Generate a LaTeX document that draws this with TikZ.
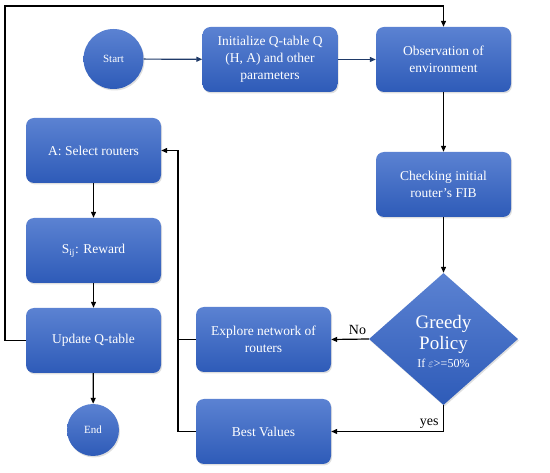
\documentclass[tikz,border=0pt]{standalone}
\usepackage{fontspec}
\setmainfont{Liberation Serif}
\usetikzlibrary{shapes.geometric,arrows.meta,shadows}
\definecolor{boxtop}{HTML}{5B82D2}
\definecolor{boxbot}{HTML}{2E5BB8}
\definecolor{navy}{HTML}{1F3A68}
\tikzset{
  blk/.style={rectangle, rounded corners=8pt, minimum width=135pt, minimum height=65pt,
    top color=boxtop, bottom color=boxbot, draw=none, text=white, align=center,
    font=\fontsize{13.5}{17}\selectfont,
    drop shadow={opacity=0.25, shadow xshift=1pt, shadow yshift=-1.5pt}},
  rnd/.style={circle, top color=boxtop, bottom color=boxbot, draw=none, text=white,
    font=\fontsize{11}{13}\selectfont,
    drop shadow={opacity=0.25, shadow xshift=1pt, shadow yshift=-1.5pt}},
  dia/.style={diamond, minimum width=149pt, minimum height=132pt, inner sep=0pt,
    top color=boxtop, bottom color=boxbot, draw=none, text=white, align=center,
    drop shadow={opacity=0.25, shadow xshift=1pt, shadow yshift=-1.5pt}},
  con/.style={line width=1.2pt, -{Triangle[length=6pt,width=5pt]}},
  lnk/.style={line width=1.2pt},
  lbl/.style={font=\fontsize{14}{16}\selectfont, text=black},
}
\begin{document}
\begin{tikzpicture}[x=1pt,y=-1pt]
\useasboundingbox (0,0) rectangle (550,473);
\node[rnd, minimum size=60pt] (start) at (113.5,59) {Start};
\node[blk] (init) at (270,59.5) {Initialize Q-table Q\\(H, A) and other\\parameters};
\node[blk] (obs) at (443.5,59.5) {Observation of\\environment};
\node[blk] (chk) at (443.5,184.5) {Checking initial\\router's FIB};
\node[dia] (greedy) at (443.5,339) {};
\node[text=white, align=center, font=\fontsize{19}{21}\selectfont] (gtxt) at (443.5,341)
  {Greedy\\Policy\\[-3pt]{\fontsize{12}{14}\selectfont If $\varepsilon$>=50\%}};
\node[blk] (explore) at (263.5,339.5) {Explore network of\\routers};
\node[blk] (best) at (263.5,431.5) {Best Values};
\node[blk] (sel) at (93.5,150.5) {A: Select routers};
\node[blk] (rew) at (93.5,250.5) {S\textsubscript{ij}: Reward};
\node[blk] (upd) at (93.5,340.5) {Update Q-table};
\node[rnd, minimum size=52pt] (end) at (93,430) {End};
\coordinate (fb) at (178,150.5);
\coordinate (lt) at (5,6);

\draw[con, navy] (start) -- (init);
\draw[con, navy] (init) -- (obs);
\draw[con] (obs) -- (chk);
\draw[con] (chk) -- (greedy.north);
\draw[con] (greedy.west) -- node[lbl, above, pos=0.3, yshift=1pt] (no) {No} (explore.east);
\draw[con] (greedy.south) |- node[lbl, pos=0.35, left, xshift=-1pt] (yes) {yes} (best.east);
\draw[lnk] (explore.west) -- (explore.west -| fb);
\draw[con] (best.west) -| (fb) -- (sel.east);
\draw[con] (sel) -- (rew);
\draw[con] (rew) -- (upd);
\draw[con] (upd) -- (end);
\draw[con] (upd.west) -| (lt) -| (obs.north);
\end{tikzpicture}
\end{document}
